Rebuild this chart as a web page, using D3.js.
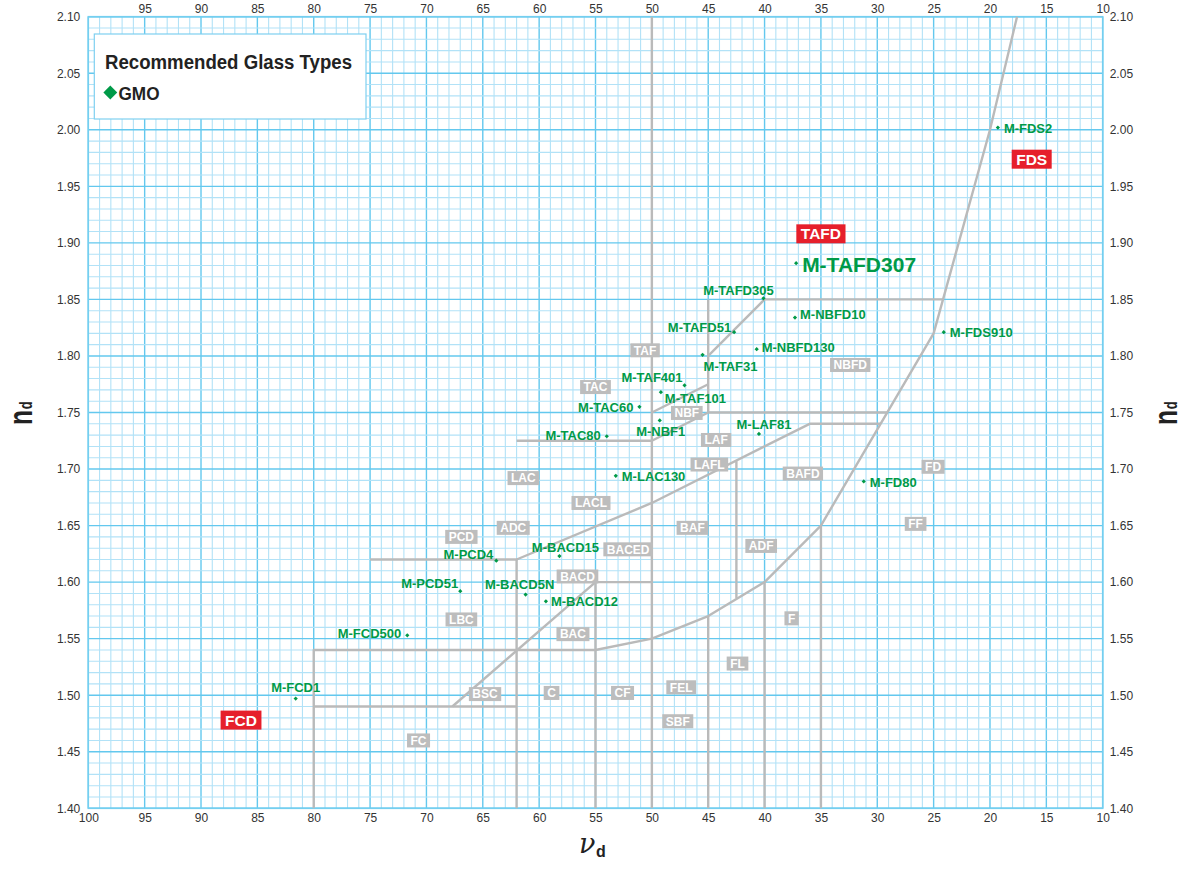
<!DOCTYPE html>
<html lang="en">
<head>
<meta charset="UTF-8">
<title>Recommended Glass Types - nd / vd diagram</title>
<script src="https://d3js.org/d3.v7.min.js"></script>
<style>
  body { margin: 0; background: #fff; }
  svg { display: block; font-family: "Liberation Sans", Arial, Helvetica, sans-serif; }
  .tick text { fill: #333; font-size: 12px; }
</style>
</head>
<body>
<svg id="chart" width="1184" height="870"></svg>
<script>
// ---- tick labels ----
const bottomTicks = [100, 95, 90, 85, 80, 75, 70, 65, 60, 55, 50, 45, 40, 35, 30, 25, 20, 15, 10];
const topTicks = [95, 90, 85, 80, 75, 70, 65, 60, 55, 50, 45, 40, 35, 30, 25, 20, 15, 10];
const indexTicks = [1.40, 1.45, 1.50, 1.55, 1.60, 1.65, 1.70, 1.75, 1.80, 1.85, 1.90, 1.95, 2.00, 2.05, 2.10];

// ---- recommended GMO glasses (vd, nd) ----
const glassNames = ["M-FDS2", "M-TAFD307", "M-TAFD305", "M-NBFD10", "M-TAFD51", "M-FDS910", "M-NBFD130",
  "M-TAF31", "M-TAF401", "M-TAF101", "M-TAC60", "M-NBF1", "M-TAC80", "M-LAF81", "M-LAC130", "M-FD80",
  "M-BACD15", "M-PCD4", "M-PCD51", "M-BACD5N", "M-BACD12", "M-FCD500", "M-FCD1"];
const glassAbbe = [19.3, 37.2, 40.1, 37.3, 42.7, 24.1, 40.7, 45.5, 47.1, 49.2, 51.1, 49.3, 54.0, 40.5, 53.2, 31.2,
  58.2, 63.8, 67.0, 61.2, 59.4, 71.7, 81.6];
const glassIndex = [2.002, 1.882, 1.851, 1.834, 1.821, 1.821, 1.806, 1.801, 1.774, 1.768, 1.755, 1.743, 1.729, 1.731,
  1.694, 1.689, 1.623, 1.619, 1.592, 1.589, 1.583, 1.553, 1.497];

// ---- glass type region names (centre, in vd / nd) ----
const regionNames = ["TAF", "TAC", "NBF", "LAF", "LAFL", "LAC", "LACL", "ADC", "PCD", "BACED", "BACD", "LBC", "BAC",
  "BAF", "BAFD", "FD", "FF", "ADF", "F", "FL", "FEL", "SBF", "CF", "C", "BSC", "FC", "NBFD"];
const regionAbbe = [50.6, 55.0, 46.9, 44.3, 44.9, 61.4, 55.4, 62.3, 66.9, 52.1, 56.6, 66.9, 57.0,
  46.4, 36.6, 25.05, 26.6, 40.3, 37.6, 42.4, 47.4, 47.7, 52.6, 58.9, 64.8, 70.7, 32.4];
const regionIndex = [1.805, 1.7725, 1.7496, 1.7257, 1.704, 1.692, 1.670, 1.648, 1.640, 1.629, 1.605, 1.567, 1.554,
  1.648, 1.696, 1.702, 1.6515, 1.632, 1.568, 1.528, 1.507, 1.477, 1.502, 1.502, 1.501, 1.460, 1.792];

// ---- highlighted families ----
const familyNames = ["TAFD", "FDS", "FCD"];
const familyAbbe = [35.0, 16.3, 86.45];
const familyIndex = [1.908, 1.974, 1.478];

// ---- region boundaries (polylines, vd / nd) ----
const boundaries = [
  [[50, 2.10], [50, 1.40]],
  [[17.6, 2.10], [20, 2.00], [25, 1.82], [35, 1.65], [40, 1.60], [45, 1.57], [50, 1.55], [55, 1.54], [80, 1.54], [80, 1.40]],
  [[45, 1.85], [45, 1.75]],
  [[45, 1.80], [40, 1.85], [24.2, 1.85]],
  [[50, 1.75], [45, 1.775]],
  [[45, 1.75], [29.1, 1.75]],
  [[62, 1.725], [50, 1.725], [45, 1.75]],
  [[62, 1.62], [50, 1.67], [36, 1.74], [29.7, 1.74]],
  [[75, 1.62], [62, 1.62], [62, 1.40]],
  [[42.5, 1.707], [42.5, 1.586]],
  [[50, 1.60], [55, 1.60], [55, 1.40]],
  [[67.7, 1.49], [55, 1.60]],
  [[80, 1.49], [62, 1.49]],
  [[45, 1.57], [45, 1.40]],
  [[40, 1.60], [40, 1.40]],
  [[35, 1.65], [35, 1.40]]
];

// label placement of the glass names relative to their points
const labelPlacement = {
  "M-FDS2": [6, 1, "start"], "M-TAFD307": [6, 1, "start"], "M-TAFD305": [-25, -8, "middle"],
  "M-NBFD10": [5, -3, "start"], "M-TAFD51": [-3, -5, "end"], "M-FDS910": [6, 0, "start"],
  "M-NBFD130": [5, -2, "start"], "M-TAF31": [1, 11, "start"], "M-TAF401": [-2, -8, "end"],
  "M-TAF101": [4, 6, "start"], "M-TAC60": [-6, 0, "end"], "M-NBF1": [1, 11, "middle"],
  "M-TAC80": [-6, -1, "end"], "M-LAF81": [5, -10, "middle"], "M-LAC130": [6, 0, "start"],
  "M-FD80": [6, 1, "start"], "M-BACD15": [6, -9, "middle"], "M-PCD4": [-3, -6, "end"],
  "M-PCD51": [-2, -8, "end"], "M-BACD5N": [-6, -10, "middle"], "M-BACD12": [5, 0, "start"],
  "M-FCD500": [-6, -2, "end"], "M-FCD1": [0, -11, "middle"]
};

const GREEN = "#009a48", RED = "#e61f2b", GREY = "#bdbdbd";
const svg = d3.select("#chart");
const x = d3.scaleLinear().domain([100, 10]).range([88.3, 1102.7]);
const y = d3.scaleLinear().domain([1.40, 2.10]).range([808.3, 16.7]);
const [x0, x1] = x.range();
const [y0, y1] = y.range();

// grid
const grid = svg.append("g");
const minorX = x.ticks(90), minorY = y.ticks(70);
grid.selectAll("line.vx").data(minorX).join("line")
  .attr("x1", d => x(d)).attr("x2", d => x(d)).attr("y1", y1).attr("y2", y0)
  .attr("stroke", d => d % 5 === 0 ? "#63c8ee" : "#b2e2f7")
  .attr("stroke-width", d => d % 5 === 0 ? 1.4 : 1.1);
grid.selectAll("line.hy").data(minorY).join("line")
  .attr("y1", d => y(d)).attr("y2", d => y(d)).attr("x1", x0).attr("x2", x1)
  .attr("stroke", d => Math.round(d * 100) % 5 === 0 ? "#63c8ee" : "#b2e2f7")
  .attr("stroke-width", d => Math.round(d * 100) % 5 === 0 ? 1.4 : 1.1);
svg.append("rect").attr("x", x0).attr("y", y1).attr("width", x1 - x0).attr("height", y0 - y1)
  .attr("fill", "none").attr("stroke", "#74cff0").attr("stroke-width", 1.6);

// axes
function plain(g) { g.select(".domain").remove(); g.selectAll(".tick line").remove(); }
svg.append("g").attr("transform", `translate(0,${y0})`)
  .call(d3.axisBottom(x).tickValues(bottomTicks).tickSize(0).tickPadding(5)).call(plain);
svg.append("g").attr("transform", `translate(0,${y1})`)
  .call(d3.axisTop(x).tickValues(topTicks).tickSize(0).tickPadding(4)).call(plain);
svg.append("g").attr("transform", `translate(${x0},0)`)
  .call(d3.axisLeft(y).tickValues(indexTicks).tickFormat(d3.format(".2f")).tickSize(0).tickPadding(8)).call(plain);
svg.append("g").attr("transform", `translate(${x1},0)`)
  .call(d3.axisRight(y).tickValues(indexTicks).tickFormat(d3.format(".2f")).tickSize(0).tickPadding(7)).call(plain);
svg.selectAll(".tick text").attr("font-family", "Liberation Sans, Arial, sans-serif");

// boundaries
const line = d3.line().x(d => x(d[0])).y(d => y(d[1]));
svg.append("g").selectAll("path").data(boundaries).join("path")
  .attr("d", line).attr("fill", "none").attr("stroke", "#bababa")
  .attr("stroke-width", 2.4).attr("stroke-linejoin", "round");

// boxed labels
function boxLabel(parent, text, cx, cy, opts) {
  const g = parent.append("g").attr("transform", `translate(${cx},${cy})`);
  const t = g.append("text").text(text).attr("text-anchor", "middle").attr("dy", "0.36em")
    .attr("fill", "#fff").attr("font-weight", "bold").attr("font-size", opts.size);
  const w = t.node().getComputedTextLength() + opts.pad * 2;
  g.insert("rect", "text").attr("x", -w / 2).attr("y", -opts.h / 2)
    .attr("width", w).attr("height", opts.h).attr("fill", opts.fill);
}
const regions = svg.append("g");
regionNames.forEach((n, i) => boxLabel(regions, n, x(regionAbbe[i]), y(regionIndex[i]),
  { size: 12, pad: 3.5, h: 14, fill: GREY }));
familyNames.forEach((n, i) => boxLabel(svg, n, x(familyAbbe[i]), y(familyIndex[i]),
  { size: 15.5, pad: 4.5, h: 19, fill: RED }));

// glass points
const diamond = d3.symbol().type(d3.symbolSquare).size(9);
const pts = svg.append("g");
glassNames.forEach((n, i) => {
  const px = x(glassAbbe[i]), py = y(glassIndex[i]);
  pts.append("path").attr("d", diamond).attr("fill", GREEN)
    .attr("transform", `translate(${px},${py}) rotate(45)`);
  const [dx, dy, anchor] = labelPlacement[n];
  pts.append("text").text(n).attr("x", px + dx).attr("y", py + dy).attr("dy", "0.36em")
    .attr("text-anchor", anchor).attr("fill", GREEN).attr("font-weight", "bold")
    .attr("font-size", n === "M-TAFD307" ? 21 : 13);
});

// legend
const lg = svg.append("g");
lg.append("rect").attr("x", 94.3).attr("y", 34).attr("width", 271.7).attr("height", 85)
  .attr("fill", "#fff").attr("stroke", "#7fd0f0").attr("stroke-width", 1.2);
lg.append("text").text("Recommended Glass Types").attr("x", 105).attr("y", 68.5)
  .attr("font-size", 20).attr("font-weight", "bold").attr("fill", "#222")
  .attr("textLength", 247).attr("lengthAdjust", "spacingAndGlyphs");
lg.append("path").attr("d", d3.symbol().type(d3.symbolSquare).size(96)).attr("fill", GREEN)
  .attr("transform", "translate(110.3,92.5) rotate(45)");
lg.append("text").text("GMO").attr("x", 118.5).attr("y", 100)
  .attr("font-size", 19).attr("font-weight", "bold").attr("fill", "#222")
  .attr("textLength", 41).attr("lengthAdjust", "spacingAndGlyphs");

// axis titles
function ndTitle(bx) {
  const t = svg.append("text").attr("transform", `translate(${bx},425) rotate(-90) scale(0.72,1)`)
    .attr("font-weight", "bold").attr("fill", "#222");
  t.append("tspan").text("n").attr("font-size", 34);
  t.append("tspan").text("d").attr("font-size", 18).attr("dx", 1);
}
ndTitle(32);
ndTitle(1177);
const vt = svg.append("text").attr("x", 579).attr("y", 853).attr("fill", "#222");
vt.append("tspan").text("ν").attr("font-family", "DejaVu Serif, serif").attr("font-style", "italic").attr("font-size", 27);
vt.append("tspan").text("d").attr("x", 596).attr("y", 856.7).attr("font-size", 16).attr("font-weight", "bold");
</script>
</body>
</html>
